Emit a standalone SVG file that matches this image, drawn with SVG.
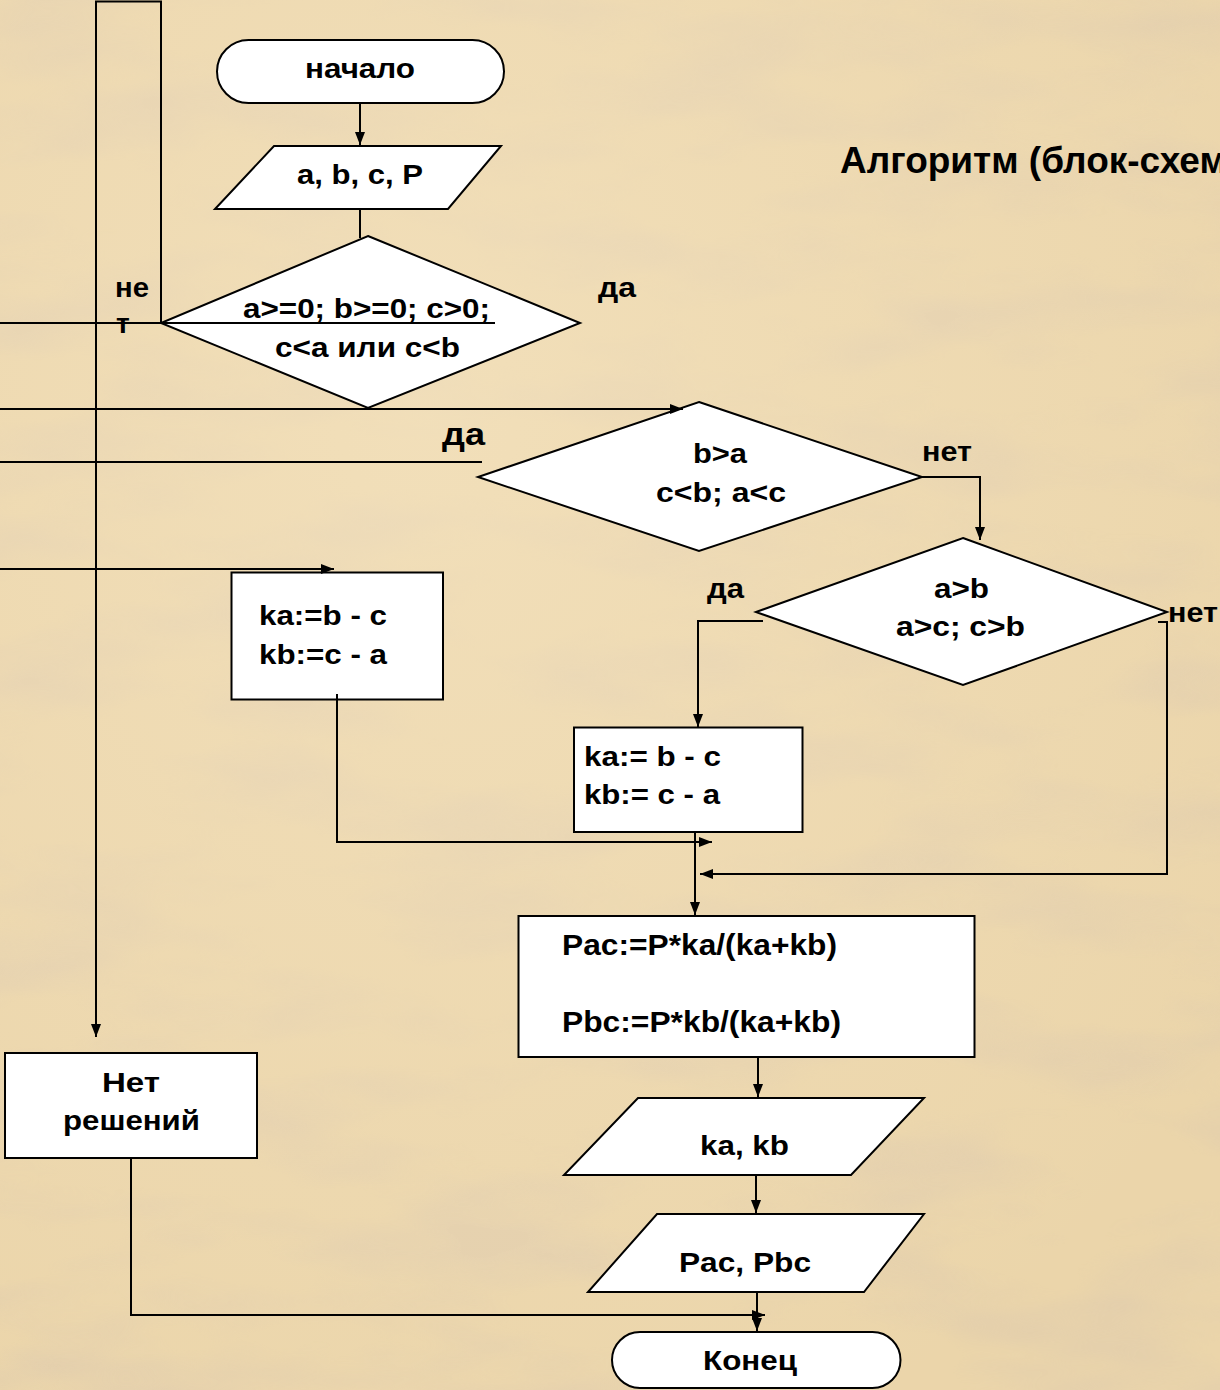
<svg xmlns="http://www.w3.org/2000/svg" width="1220" height="1390" viewBox="0 0 1220 1390">
<defs>
<style>
.bg{fill:#EBD5AA}
.shape{fill:#FFFFFF;stroke:#000;stroke-width:2}
.conn{fill:none;stroke:#000;stroke-width:2}
.t{font-family:"Liberation Sans",Arial,sans-serif;font-weight:bold;font-size:28px;fill:#000}
</style>
<marker id="arr" markerUnits="userSpaceOnUse" markerWidth="13" markerHeight="10" refX="13" refY="5" orient="auto">
<path d="M0,0 L13,5 L0,10 z" fill="#000"/>
</marker>
<filter id="paper" x="0" y="0" width="100%" height="100%">
<feTurbulence type="fractalNoise" baseFrequency="0.005 0.014" numOctaves="3" seed="11"/>
<feColorMatrix type="matrix" values="0 0 0 0 0.74  0 0 0 0 0.60  0 0 0 0 0.42  2.6 0 0 0 -1.1"/>
</filter>
<radialGradient id="glow" cx="0.35" cy="0.3" r="0.8">
<stop offset="0" stop-color="#F7E7C6" stop-opacity="0.55"/>
<stop offset="1" stop-color="#F7E7C6" stop-opacity="0"/>
</radialGradient>
</defs>

<g id="background">
<rect class="bg" x="0" y="0" width="1220" height="1390"/>
<rect x="0" y="0" width="1220" height="1390" filter="url(#paper)" opacity="0.6"/>
<rect x="0" y="0" width="1220" height="1390" fill="url(#glow)"/>
</g>

<text id="title" class="t" x="840" y="173" style="font-size:37px">Алгоритм (блок-схем</text>

<g id="start">
<rect class="shape" x="217" y="40" width="287" height="63" rx="31.5" ry="31.5"/>
<text class="t" x="305" y="78" textLength="110" lengthAdjust="spacingAndGlyphs">начало</text>
</g>

<g id="input">
<polygon class="shape" points="274,146 501,146 448,209 215,209"/>
<text class="t" x="297" y="184" textLength="126" lengthAdjust="spacingAndGlyphs">a, b, c, P</text>
</g>

<g id="check">
<polygon class="shape" points="368,236 580,323 368,408 161,323"/>
<text class="t" x="243" y="318" textLength="247" lengthAdjust="spacingAndGlyphs">a&gt;=0; b&gt;=0; c&gt;0;</text>
<text class="t" x="275" y="357" textLength="185" lengthAdjust="spacingAndGlyphs">c&lt;a или c&lt;b</text>
</g>

<g id="cond1">
<polygon class="shape" points="699,402 922,477 699,551 478,477"/>
<text class="t" x="693" y="463" textLength="54" lengthAdjust="spacingAndGlyphs">b&gt;a</text>
<text class="t" x="656" y="502" textLength="130" lengthAdjust="spacingAndGlyphs">c&lt;b; a&lt;c</text>
</g>

<g id="cond2">
<polygon class="shape" points="963,538 1167,612 963,685 756,612"/>
<text class="t" x="934" y="598" textLength="55" lengthAdjust="spacingAndGlyphs">a&gt;b</text>
<text class="t" x="896" y="636" textLength="129" lengthAdjust="spacingAndGlyphs">a&gt;c; c&gt;b</text>
</g>

<g id="calc1">
<rect class="shape" x="231.5" y="572.5" width="211.5" height="127"/>
<text class="t" x="259" y="625" textLength="128" lengthAdjust="spacingAndGlyphs">ka:=b - c</text>
<text class="t" x="259" y="664" textLength="128" lengthAdjust="spacingAndGlyphs">kb:=c - a</text>
</g>

<g id="calc2">
<rect class="shape" x="574" y="727.5" width="228.5" height="104.5"/>
<text class="t" x="584" y="766" textLength="137" lengthAdjust="spacingAndGlyphs">ka:= b - c</text>
<text class="t" x="584" y="804" textLength="136" lengthAdjust="spacingAndGlyphs">kb:= c - a</text>
</g>

<g id="calc3">
<rect class="shape" x="518.5" y="916" width="456" height="141"/>
<text class="t" x="562" y="955" style="font-size:30px" textLength="275" lengthAdjust="spacingAndGlyphs">Pac:=P*ka/(ka+kb)</text>
<text class="t" x="562" y="1032" style="font-size:30px" textLength="279" lengthAdjust="spacingAndGlyphs">Pbc:=P*kb/(ka+kb)</text>
</g>

<g id="out1">
<polygon class="shape" points="638,1098 924,1098 851,1175 564,1175"/>
<text class="t" x="700" y="1155" textLength="89" lengthAdjust="spacingAndGlyphs">ka, kb</text>
</g>

<g id="out2">
<polygon class="shape" points="657,1214 924,1214 864,1292 588,1292"/>
<text class="t" x="679" y="1272" textLength="132" lengthAdjust="spacingAndGlyphs">Pac, Pbc</text>
</g>

<g id="nosol">
<rect class="shape" x="5" y="1053" width="252" height="105"/>
<text class="t" x="102" y="1092" textLength="58" lengthAdjust="spacingAndGlyphs">Нет</text>
<text class="t" x="63" y="1130" textLength="137" lengthAdjust="spacingAndGlyphs">решений</text>
</g>

<g id="end">
<rect class="shape" x="612" y="1332" width="288.5" height="56" rx="28" ry="28"/>
<text class="t" x="703" y="1370" textLength="94" lengthAdjust="spacingAndGlyphs">Конец</text>
</g>

<g id="connectors">
<line class="conn" x1="360" y1="103" x2="360" y2="145" marker-end="url(#arr)"/>
<line class="conn" x1="360" y1="209" x2="360" y2="238"/>
<polyline class="conn" points="161,323 161,1.5 96,1.5 96,1037" marker-end="url(#arr)"/>
<line class="conn" x1="0" y1="323" x2="495" y2="323"/>
<line class="conn" x1="0" y1="409" x2="683" y2="409" marker-end="url(#arr)"/>
<line class="conn" x1="0" y1="462" x2="482" y2="462"/>
<line class="conn" x1="0" y1="569" x2="334" y2="569" marker-end="url(#arr)"/>
<polyline class="conn" points="922,477 980,477 980,540" marker-end="url(#arr)"/>
<polyline class="conn" points="763,621 698,621 698,727" marker-end="url(#arr)"/>
<polyline class="conn" points="1158,622 1167,622 1167,874 700,874" marker-end="url(#arr)"/>
<polyline class="conn" points="337,694 337,842 712,842" marker-end="url(#arr)"/>
<line class="conn" x1="695" y1="832" x2="695" y2="915" marker-end="url(#arr)"/>
<line class="conn" x1="758" y1="1057" x2="758" y2="1097" marker-end="url(#arr)"/>
<line class="conn" x1="756" y1="1175" x2="756" y2="1213" marker-end="url(#arr)"/>
<line class="conn" x1="757" y1="1292" x2="757" y2="1331" marker-end="url(#arr)"/>
<polyline class="conn" points="131,1158 131,1315 765,1315" marker-end="url(#arr)"/>
</g>

<g id="labels">
<text class="t" x="115" y="297" textLength="34" lengthAdjust="spacingAndGlyphs">не</text>
<text class="t" x="116" y="333">т</text>
<text class="t" x="598" y="297" textLength="38" lengthAdjust="spacingAndGlyphs">да</text>
<text class="t" x="442" y="445" style="font-size:32px" textLength="43" lengthAdjust="spacingAndGlyphs">да</text>
<text class="t" x="922" y="461" textLength="50" lengthAdjust="spacingAndGlyphs">нет</text>
<text class="t" x="707" y="598" textLength="37" lengthAdjust="spacingAndGlyphs">да</text>
<text class="t" x="1168" y="622" textLength="50" lengthAdjust="spacingAndGlyphs">нет</text>
</g>
</svg>
